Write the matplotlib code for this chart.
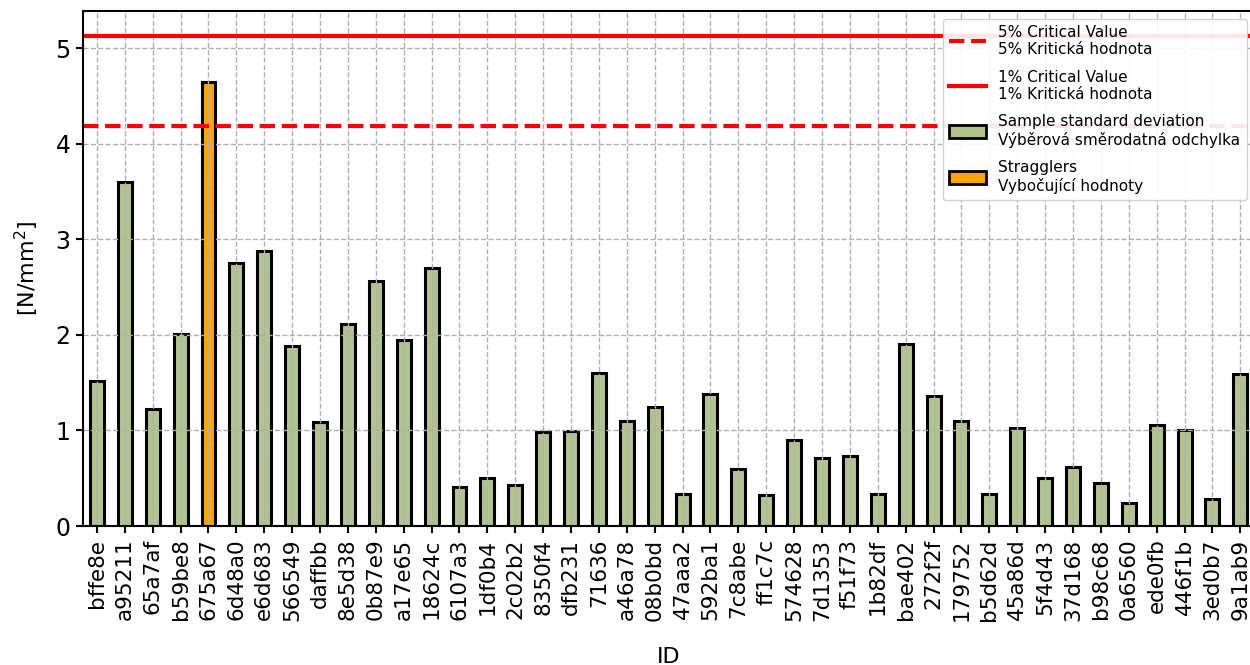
import matplotlib
matplotlib.use("Agg")
import matplotlib.pyplot as plt
from matplotlib.patches import Patch
from matplotlib.lines import Line2D

# sample IDs and their standard deviations [N/mm2]
ids = ['bffe8e', 'a95211', '65a7af', 'b59be8', '675a67', '6d48a0', 'e6d683', '566549',
       'daffbb', '8e5d38', '0b87e9', 'a17e65', '18624c', '6107a3', '1df0b4', '2c02b2',
       '8350f4', 'dfb231', '71636', 'a46a78', '08b0bd', '47aaa2', '592ba1', '7c8abe',
       'ff1c7c', '574628', '7d1353', 'f51f73', '1b82df', 'bae402', '272f2f', '179752',
       'b5d62d', '45a86d', '5f4d43', '37d168', 'b98c68', '0a6560', 'ede0fb', '446f1b',
       '3ed0b7', '9a1ab9']
std_dev = [1.52, 3.60, 1.22, 2.01, 4.645, 2.75, 2.88, 1.88,
           1.09, 2.11, 2.56, 1.95, 2.70, 0.41, 0.50, 0.43,
           0.98, 0.99, 1.60, 1.10, 1.25, 0.34, 1.38, 0.60,
           0.32, 0.90, 0.71, 0.73, 0.34, 1.90, 1.36, 1.10,
           0.34, 1.03, 0.50, 0.62, 0.45, 0.24, 1.06, 1.00,
           0.28, 1.59]
stragglers = ['675a67']

crit_5 = 4.19
crit_1 = 5.13

GREEN = '#b1c38f'
ORANGE = '#ffa500'

fig = plt.figure(figsize=(12.5, 6.65), dpi=100)
ax = fig.add_axes([0.0664, 0.209, 0.937, 0.774])

colors = [ORANGE if i in stragglers else GREEN for i in ids]
x = list(range(len(ids)))
ax.bar(x, std_dev, width=0.5, color=colors, edgecolor='black', linewidth=2.2)

ax.axhline(crit_5, color='red', linestyle='--', linewidth=3)
ax.axhline(crit_1, color='red', linestyle='-', linewidth=3)

ax.set_xlim(-0.5, len(ids) - 0.5)
ax.set_ylim(0, crit_1 * 1.05)
ax.set_xticks(x)
ax.set_xticklabels(ids, rotation=90, fontsize=15.5)
ax.tick_params(axis='y', labelsize=17)
ax.tick_params(axis='both', length=5, width=1.5, colors='black', pad=4)
ax.grid(True, linestyle='--', color='#b0b0b0', linewidth=1)

for s in ax.spines.values():
    s.set_linewidth(1.5)

ax.set_xlabel('ID', fontsize=16, labelpad=19)
ax.set_ylabel('[N/mm$^2$]', fontsize=16, labelpad=10)

handles = [
    Line2D([0], [0], color='red', linestyle='--', linewidth=3),
    Line2D([0], [0], color='red', linestyle='-', linewidth=3),
    Patch(facecolor=GREEN, edgecolor='black', linewidth=2),
    Patch(facecolor=ORANGE, edgecolor='black', linewidth=2),
]
labels = [
    '5% Critical Value\n5% Kritická hodnota',
    '1% Critical Value\n1% Kritická hodnota',
    'Sample standard deviation\nVýběrová směrodatná odchylka',
    'Stragglers\nVybočující hodnoty',
]
ax.legend(handles, labels, loc='upper right', fontsize=11,
          framealpha=0.9, handlelength=2.4, handleheight=0.9, labelspacing=0.8)

fig.savefig('out.png', dpi=100)
